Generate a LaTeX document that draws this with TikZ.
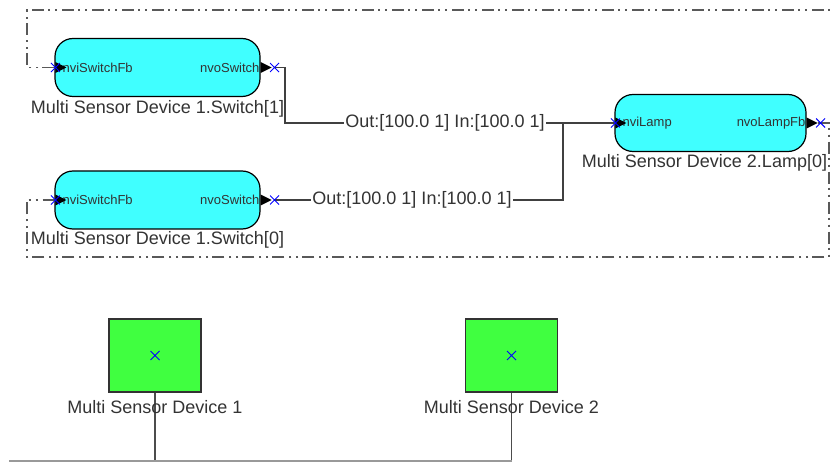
\documentclass[tikz,border=0pt]{standalone}
\usepackage{fontspec}
\setmainfont{Liberation Sans}
\usepackage[svgnames]{xcolor}
\usetikzlibrary{positioning}

\definecolor{boxcyan}{HTML}{40FFFF}
\definecolor{devgreen}{HTML}{40FF40}
\definecolor{txtgray}{HTML}{333333}

\tikzset{
  fblock/.style={draw=black, line width=1.2pt, fill=boxcyan,
    rounded corners=18pt, minimum width=205pt, minimum height=58pt, inner sep=0pt},
  devbox/.style={draw=black!80, line width=1.5pt, fill=devgreen,
    minimum width=92pt, minimum height=73pt, inner sep=0pt},
  boxlabel/.style={text=txtgray, font=\fontsize{18}{21}\selectfont, inner sep=0pt},
  portlabel/.style={text=txtgray, font=\fontsize{13}{15}\selectfont, inner sep=0pt},
  binding/.style={draw=black!75, line width=1.3pt},
  bindlabel/.style={fill=white, text=txtgray, font=\fontsize{18}{21}\selectfont,
    inner sep=1pt},
  groupline/.style={draw=black!65, line width=1.3pt,
    dash pattern=on 12pt off 4pt on 2pt off 5pt on 2pt off 5pt},
  bus/.style={draw=black!70, line width=1.5pt},
  xport/.pic={\draw[blue, line width=0.9pt] (-4.5,-4.5) -- (4.5,4.5) (-4.5,4.5) -- (4.5,-4.5);},
  intip/.pic={\fill[black] (0,-5.5) -- (11,0) -- (0,5.5) -- cycle;}
}

\begin{document}
\begin{tikzpicture}[x=1pt, y=-1pt]
\useasboundingbox (0,0) rectangle (837,462);

% functional blocks
\node[fblock] (sw1) at (157.5,67.5) {};
\node[fblock] (sw0) at (157.5,200) {};
\node[fblock, minimum width=191pt, minimum height=57pt] (lamp) at (710.5,123) {};

\node[boxlabel, below=3pt of sw1] (sw1lbl) {Multi Sensor Device 1.Switch[1]};
\node[boxlabel, below=2pt of sw0] (sw0lbl) {Multi Sensor Device 1.Switch[0]};
\node[boxlabel, below=2pt of lamp, xshift=-6pt] (lamplbl) {Multi Sensor Device 2.Lamp[0]};

% port names
\node[portlabel, anchor=west] at ([xshift=8pt]sw1.west) {nviSwitchFb};
\node[portlabel, anchor=east] at ([xshift=-1pt]sw1.east) {nvoSwitch};
\node[portlabel, anchor=west] at ([xshift=8pt]sw0.west) {nviSwitchFb};
\node[portlabel, anchor=east] at ([xshift=-1pt]sw0.east) {nvoSwitch};
\node[portlabel, anchor=west] at ([xshift=8pt]lamp.west) {nviLamp};
\node[portlabel, anchor=east] at ([xshift=-1pt]lamp.east) {nvoLampFb};

% port ends
\coordinate[right=14pt of sw1.east] (sw1out);
\coordinate[right=14pt of sw0.east] (sw0out);
\coordinate[right=11pt of lamp.east] (lampout);
\coordinate (sw1in) at (sw1.west);
\coordinate (sw0in) at (sw0.west);
\coordinate (lampin) at (lamp.west);

% group outline
\draw[groupline] (sw1in) -- (27,67.5) -- (27,10) -- (831,10);
\draw[groupline] (lampout) -- (829,123) -- (829,257) -- (27,257) -- (27,200) -- (sw0in);

% bindings
\coordinate (j1) at (285,67.5);
\coordinate (j2) at (563,123);
\draw[binding] (sw1out) -- (j1) -- (j1 |- lampin) -- (lampin);
\draw[binding] (sw0out) -- (j2 |- sw0out) -- (j2);
\node[bindlabel] (b1) at (445,123) {Out:[100.0 1] In:[100.0 1]};
\node[bindlabel] (b0) at (412,200) {Out:[100.0 1] In:[100.0 1]};

% port marks
\foreach \b in {sw1, sw0, lamp} {
  \pic at ([xshift=1pt]\b.west) {intip};
  \pic at (\b.east) {intip};
  \pic at ([xshift=1pt]\b.west) {xport};
  \pic at ([xshift=14pt]\b.east) {xport};
}

% devices
\node[devbox] (dev1) at (155,355.5) {};
\node[devbox] (dev2) at (511.5,355.5) {};
\pic at (dev1.center) {xport};
\pic at (dev2.center) {xport};
\coordinate (bus1) at (155,461);
\coordinate (bus2) at (511.5,461);
\draw[bus] (dev1.south) -- (bus1);
\draw[bus] (dev2.south) -- (bus2);
\draw[draw=black!40, line width=1.2pt] (9,461) -- (bus1) -- (bus2);
\node[boxlabel, below=8pt of dev1] (dev1lbl) {Multi Sensor Device 1};
\node[boxlabel, below=8pt of dev2] (dev2lbl) {Multi Sensor Device 2};
\end{tikzpicture}
\end{document}
